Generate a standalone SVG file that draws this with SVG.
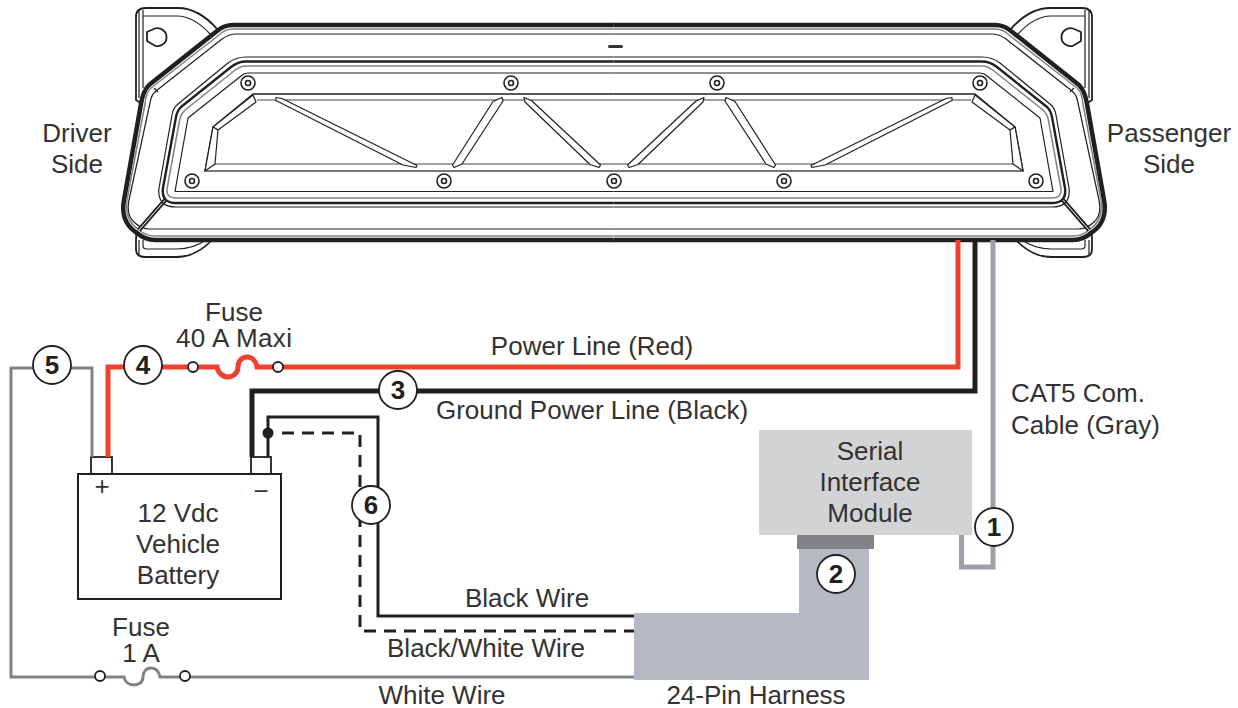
<svg xmlns="http://www.w3.org/2000/svg" xmlns:xlink="http://www.w3.org/1999/xlink" width="1238" height="708" viewBox="0 0 1238 708">
<style>
text{font-family:"Liberation Sans",Arial,sans-serif;font-size:26px;fill:#333132;text-anchor:middle}
text.s{text-anchor:start}
.badge circle{fill:#fff;stroke:#231f20;stroke-width:1.8}
.badge text{font-weight:bold;font-size:26px;fill:#231f20}
.w{fill:none;stroke-linejoin:miter}
.red{stroke:#ef4130;stroke-width:5}
.blk{stroke:#231f20;stroke-width:5}
.thin{stroke:#231f20;stroke-width:3}
.dash{stroke:#231f20;stroke-width:3;stroke-dasharray:12 8}
.gry{stroke:#808285;stroke-width:3}
.cat{stroke:#9da0aa;stroke-width:5}
.term{fill:#fff;stroke:#231f20;stroke-width:1.8}
.o{fill:#fff;stroke:#231f20;stroke-width:1.8}
.l{fill:none;stroke:#231f20;stroke-width:1.2;stroke-linejoin:round}
.g{fill:none;stroke:#808285;stroke-width:1.5;stroke-linejoin:round}
.st{fill:#fff;stroke:#231f20;stroke-width:1.2;stroke-linejoin:round}
.scr{fill:#fff;stroke:#231f20;stroke-width:1.6}
</style>
<defs>
<g id="half">
<path class="l" style="stroke-width:1.8;fill:#fff" d="M218,30 Q199,8 178,8 H146 Q136,8 136,17 V100 L142,104 L136,240 V249 Q136,257 145,257 H176 Q196,257 212,240 Z"/>
<path class="l" d="M139,10 V98 M143,10 V88 M143,16 H177 Q194,16 211,35 M139,240 V255 M143,240 V246 Q143,249 147,249 H177 Q193,249 206,240"/>
<path class="l" style="stroke-width:1.8" d="M147,32 L155,28.500 A9,9 0 1 1 155,45.800 L147,41 Z"/>
<path d="M614.500,25 H233 Q224,25 217,31 L149,85 Q143,91 141,104 L124,200 Q120,222 137,233 Q145,240 155,240 H614.500 Z" fill="#fff"/>
<path d="M614.500,25 H233 Q224,25 217,31 L149,85 Q143,91 141,104 L124,200 Q120,222 137,233 Q145,240 155,240 H614.500" fill="none" stroke="#231f20" stroke-width="4.500" stroke-linejoin="round"/>
<path class="g" d="M614.500,29 H233 Q225,29 219,35 L151,88 Q146,92 145,104 L127,200 Q124,220 139,230 Q146,236 155,236 H614.500"/>
<path class="l" d="M614.500,34 H236 Q229,34 222,39 L156,91 Q151,95 150,103 L129,200 Q126,215 134,222 Q141,229 150,229 H614.500 M154,88 L158,92"/>
<path d="M139,230 L166,199" stroke="#231f20" stroke-width="4.200" fill="none"/>
<path d="M139,230 L166,199" stroke="#fff" stroke-width="1" fill="none"/>
<path class="l" d="M614.500,57 H246 Q236,57 228,63 L178,104 Q173,108 172,115 L159,188 Q157,207 176,207 H614.500"/>
<path class="l" style="stroke-width:2.400" d="M614.500,61.500 H246 Q238,61.500 231,67 L181,107 Q177,111 176,117 L163,188 Q161,203 176,203 H614.500"/>
<path class="g" d="M614.500,66 H246 Q240,66 234,71 L185,110 Q181,114 180,118 L167,189 Q166,198 176,198 H614.500"/>
<path class="l" d="M614.500,73 H248 Q244,73 241,76 L188,118 L175,191.500 H614.500"/>
<path class="l" style="stroke-width:1.400" d="M614.500,94 H253 L213,127 L205,171 H614.500"/>
<path class="g" d="M614.500,100 H257 M215,164 H614.500 M614.500,171 H205"/>
<path class="st" d="M253,95 L256,102 L218,130 L213,127 Z"/>
<path class="st" d="M213,127 L218,130 L215,164 L205,171 Z"/>
<path class="st" d="M276,97.500 L282,98.500 L417,165.500 L416,167.500 L403,165 L276,100.500 Z"/>
<path class="st" d="M502,97.500 L503,101 L462,164 L454,167.500 L452.500,165 L493,101.500 Z"/>
<path class="st" d="M524,97.500 L532,101 L600.500,165 L599,167.500 L590,164.500 L525,102 Z"/>
<g class="scr"><circle cx="248" cy="83" r="7"/><circle cx="248" cy="83" r="2.500"/><circle cx="511" cy="83" r="7"/><circle cx="511" cy="83" r="2.500"/><circle cx="192" cy="181" r="7"/><circle cx="192" cy="181" r="2.500"/><circle cx="444" cy="181" r="7"/><circle cx="444" cy="181" r="2.500"/></g>
</g>
</defs>

<g id="light-bar">
<use href="#half"/>
<use href="#half" transform="matrix(-1 0 0 1 1228 0)"/>
<g class="scr"><circle cx="614" cy="181" r="7"/><circle cx="614" cy="181" r="2.500"/></g>
<rect x="608" y="45" width="15" height="3" rx="1.500" fill="#333"/>
</g>

<g id="harness"><path d="M799,549 H869 V680 H634 V613 H799 Z" fill="#b5b9c1"/></g>
<g id="module">
<rect x="759" y="430" width="213" height="105" fill="#d1d3d4"/>
<rect x="797" y="535" width="77" height="14" fill="#808285"/>
<text x="870" y="460">Serial</text><text x="870" y="491">Interface</text><text x="870" y="522">Module</text>
</g>
<g id="battery">
<rect class="term" x="91" y="457" width="21" height="17"/>
<rect class="term" x="251" y="457" width="20" height="17"/>
<rect x="78" y="474" width="203" height="125" fill="#fff" stroke="#231f20" stroke-width="2"/>
<text x="102" y="495">+</text>
<text x="261" y="500">−</text>
<text x="178" y="522">12 Vdc</text><text x="178" y="553">Vehicle</text><text x="178" y="584">Battery</text>
</g>

<g id="connectors">
<path class="w cat" d="M993,240 V567 H961.500 V535"/>
<path class="w red" d="M958,240 V367 H278 M108,457 V367 H193 M198,367 H217 c1,6 6,10 11,10 s10,-4 10,-10 c0,-6 4,-10 9,-10 s9,4 10,10 H273"/>
<path class="w blk" d="M975,240 V391 H252 V457"/>
<path class="w thin" d="M268,457 V417 H378 V616 H634"/>
<path class="w dash" d="M282,433 H360 V631 H634"/>
<circle cx="268" cy="433" r="5.500" fill="#231f20"/>
<path class="w gry" d="M92,457 V368 H11 V677 H100 M105,677 H124 c1,5 5,8 10,8 s9,-3 9,-8 c0,-5 3,-9 8,-9 s8,4 9,9 H180 M190,677 H634"/>
<circle class="o" cx="193" cy="367" r="5"/><circle class="o" cx="278" cy="367" r="5"/>
<circle class="o" cx="100" cy="676" r="5"/><circle class="o" cx="185" cy="676" r="5"/>
</g>

<g id="badge-1" class="badge"><circle cx="994" cy="527" r="19"/><text x="994" y="536">1</text></g>
<g id="badge-2" class="badge"><circle cx="836" cy="574" r="19"/><text x="836" y="583">2</text></g>
<g id="badge-3" class="badge"><circle cx="398" cy="390" r="19"/><text x="398" y="399">3</text></g>
<g id="badge-4" class="badge"><circle cx="143" cy="365" r="19"/><text x="143" y="374">4</text></g>
<g id="badge-5" class="badge"><circle cx="52" cy="365" r="19"/><text x="52" y="374">5</text></g>
<g id="badge-6" class="badge"><circle cx="371" cy="505" r="19"/><text x="371" y="514">6</text></g>

<g id="labels">
<text x="77" y="142">Driver</text><text x="77" y="173">Side</text>
<text x="1169" y="142">Passenger</text><text x="1169" y="173">Side</text>
<text x="234" y="321">Fuse</text><text x="234" y="347" textLength="116">40 A Maxi</text>
<text x="592" y="355">Power Line (Red)</text>
<text x="592" y="419">Ground Power Line (Black)</text>
<text class="s" x="1011" y="402">CAT5 Com.</text><text class="s" x="1011" y="434">Cable (Gray)</text>
<text x="527" y="607">Black Wire</text>
<text x="486" y="657">Black/White Wire</text>
<text x="141" y="636">Fuse</text><text x="141" y="662">1 A</text>
<text x="442" y="704">White Wire</text>
<text x="756" y="704">24-Pin Harness</text>
</g>
</svg>
